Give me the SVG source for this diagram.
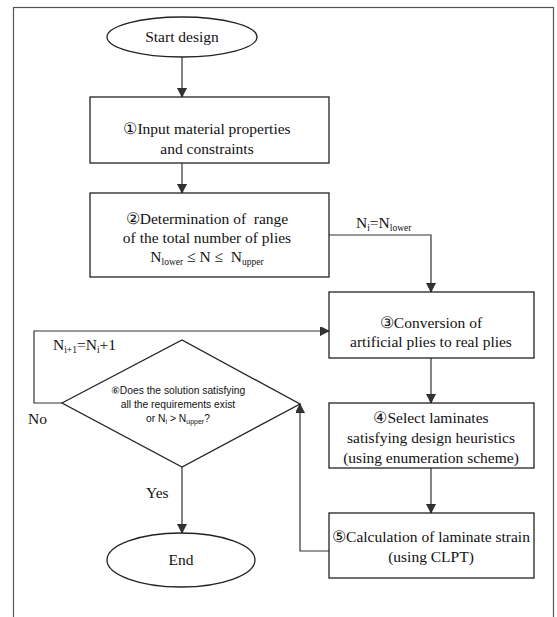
<svg xmlns="http://www.w3.org/2000/svg" width="557" height="617" viewBox="0 0 557 617" font-family="'Liberation Serif', 'Times New Roman', serif">
<defs>
<style>
.frame{fill:none;stroke:#555;stroke-width:1.2}
.box{fill:#fff;stroke:#222;stroke-width:1.3}
.edge{fill:none;stroke:#333;stroke-width:1.2}
.t{font-family:'Liberation Serif','Times New Roman',serif;font-size:15.5px;fill:#111;text-anchor:middle}
.lbl{font-family:'Liberation Serif','Times New Roman',serif;font-size:15.5px;fill:#111}
.d{font-family:'Liberation Sans',Arial,sans-serif;font-size:10.3px;fill:#111;text-anchor:middle}
.s{font-size:9.5px}
.ss{font-size:7px}
</style>
<marker id="ah" markerUnits="userSpaceOnUse" markerWidth="10" markerHeight="10" refX="9" refY="4.5" orient="auto">
<path d="M0,0 L9,4.5 L0,9 z" fill="#333" stroke="#222" stroke-width="0.8"/>
</marker>
</defs>
<rect class="frame" x="13.5" y="7.5" width="540" height="630"/>

<g id="connectors">
<line class="edge" x1="182" y1="57" x2="182" y2="97" marker-end="url(#ah)"/>
<line class="edge" x1="182" y1="163" x2="182" y2="193" marker-end="url(#ah)"/>
<polyline class="edge" points="329,235 431,235 431,292" marker-end="url(#ah)"/>
<line class="edge" x1="431" y1="358" x2="431" y2="403" marker-end="url(#ah)"/>
<line class="edge" x1="431" y1="468" x2="431" y2="513" marker-end="url(#ah)"/>
<polyline class="edge" points="329,551 300,551 300,404" marker-end="url(#ah)"/>
<polyline class="edge" points="62,403 34,403 34,331 329,331" marker-end="url(#ah)"/>
<line class="edge" x1="182" y1="467" x2="182" y2="533" marker-end="url(#ah)"/>
<text class="lbl" x="356" y="228">N<tspan class="s" dy="3">i</tspan><tspan dy="-3">=N</tspan><tspan class="s" dy="3">lower</tspan></text>
<text class="lbl" x="53" y="350">N<tspan class="s" dy="3">i+1</tspan><tspan dy="-3">=N</tspan><tspan class="s" dy="3">i</tspan><tspan dy="-3">+1</tspan></text>
<text class="lbl" x="28" y="424">No</text>
<text class="lbl" x="146" y="498">Yes</text>
</g>

<g id="start">
<ellipse class="box" cx="182" cy="37" rx="75" ry="20"/>
<text class="t" x="182" y="42">Start design</text>
</g>

<g id="step1">
<rect class="box" x="90" y="97" width="239" height="66"/>
<text class="t" x="207" y="134">①Input material properties</text>
<text class="t" x="207" y="154">and constraints</text>
</g>

<g id="step2">
<rect class="box" x="90" y="193" width="239" height="84"/>
<text class="t" x="207" y="224">②Determination of&#160; range</text>
<text class="t" x="207" y="243">of the total number of plies</text>
<text class="t" x="207" y="262">N<tspan class="s" dy="3">lower</tspan><tspan dy="-3"> ≤ N ≤&#160; N</tspan><tspan class="s" dy="3">upper</tspan></text>
</g>

<g id="step3">
<rect class="box" x="329" y="292" width="205" height="66"/>
<text class="t" x="431" y="328">③Conversion of</text>
<text class="t" x="431" y="347">artificial plies to real plies</text>
</g>

<g id="step4">
<rect class="box" x="329" y="403" width="205" height="65"/>
<text class="t" x="431" y="423">④Select laminates</text>
<text class="t" x="431" y="443">satisfying design heuristics</text>
<text class="t" x="431" y="463">(using enumeration scheme)</text>
</g>

<g id="step5">
<rect class="box" x="329" y="513" width="205" height="65"/>
<text class="t" x="431" y="542">⑤Calculation of laminate strain</text>
<text class="t" x="431" y="562">(using CLPT)</text>
</g>

<g id="decision">
<polygon class="box" points="62,403 182,340 300,404 182,467"/>
<text class="d" x="178" y="394">⑥Does the solution satisfying</text>
<text class="d" x="178" y="408">all the requirements exist</text>
<text class="d" x="178" y="422">or N<tspan class="ss" dy="2">i</tspan><tspan dy="-2"> &gt; N</tspan><tspan class="ss" dy="2">upper</tspan><tspan dy="-2">?</tspan></text>
</g>

<g id="end">
<ellipse class="box" cx="181" cy="560" rx="74" ry="27"/>
<text class="t" x="181" y="565">End</text>
</g>
</svg>
